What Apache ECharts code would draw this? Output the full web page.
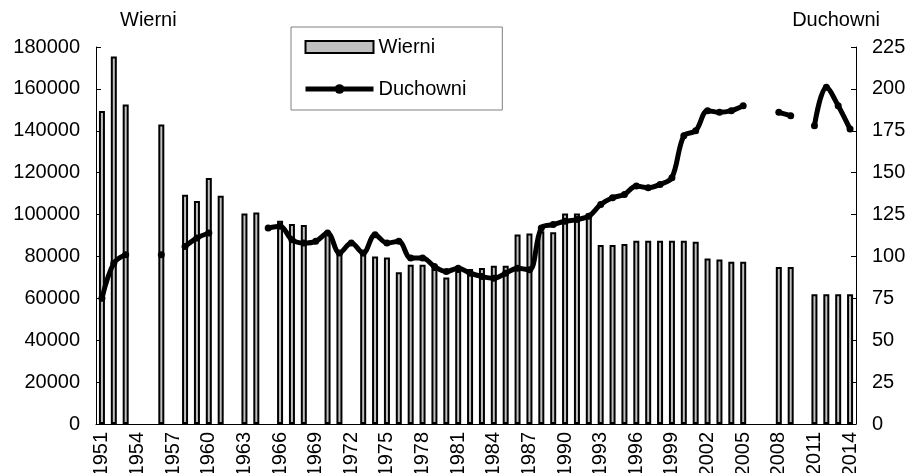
<!DOCTYPE html>
<html>
<head>
<meta charset="utf-8">
<script src="https://cdn.jsdelivr.net/npm/echarts@6.0.0/dist/echarts.min.js"></script>
<style>
  html, body { margin: 0; padding: 0; background: #fff; }
  #chart { width: 910px; height: 473px; }
</style>
</head>
<body>
<div id="chart"></div>
<script>
// lata 1951-2014
const years = []
for (let y = 1951; y <= 2014; y++) years.push(String(y))

// Wierni (lewa oś)
const wierni = [
  149500, 175500, 152500, null, null, 143000, null, 109500, 106500, 117500,
  109000, null, 100500, 101000, null, 97000, 95500, 95000, null, 91000,
  82500, null, 81000, 80000, 79500, 72500, 76000, 76000, 74000, 70000,
  73000, 74000, 74500, 75500, 75500, 90500, 91000, 92000, 91500, 100500,
  100500, 100500, 85500, 85500, 86000, 87500, 87500, 87500, 87500, 87500,
  87000, 79000, 78500, 77500, 77500, null, null, 75000, 75000, null,
  62000, 62000, 62000, 62000
]

// Duchowni (prawa oś)
const duchowni = [
  75, 96, 101, null, null, 101, null, 106, 111, 114,
  null, null, null, null, 117, 118, 110, 108, 109, 114,
  102, 108, 102, 113, 108, 109, 99, 99, 94, 91,
  93, 90, 88, 87, 90, 93, 92, 117, 119, 121,
  122, 124, 131, 135, 137, 142, 141, 143, 147, 172,
  175, 187, 186, 187, 190, null, null, 186, 184, null,
  178, 201, 190, 176
]

const leftTicks = { min: 0, max: 180000, interval: 20000 }
const rightTicks = { min: 0, max: 225, interval: 25 }

const FONT = "Liberation Sans"
const FS = 20

function initChart(dom) {
  const chart = echarts.init(dom)
  const option = {
    animation: false,
    textStyle: { fontFamily: FONT, color: "#000" },
    grid: { left: 96, right: 54, top: 47, bottom: 49, outerBoundsMode: "none", containLabel: false },
    legend: {
      orient: "vertical",
      left: 291,
      top: 27,
      padding: [10, 36, 11, 12],
      borderColor: "#808080",
      borderWidth: 1,
      itemWidth: 68,
      itemHeight: 12,
      itemGap: 22,
      textStyle: { fontFamily: FONT, fontSize: FS, lineHeight: 20, color: "#000" },
      data: [
        { name: "Wierni", icon: "rect" },
        { name: "Duchowni", lineStyle: { width: 5 } }
      ]
    },
    graphic: [
      {
        type: "text",
        left: 120,
        top: 10,
        style: { text: "Wierni", font: FS + "px " + FONT, fill: "#000" }
      },
      {
        type: "text",
        right: 30,
        top: 10,
        style: { text: "Duchowni", font: FS + "px " + FONT, fill: "#000" }
      }
    ],
    xAxis: [
      {
        type: "category",
        data: years,
        boundaryGap: true,
        axisLine: { lineStyle: { color: "#000", width: 1 } },
        axisTick: { interval: 0, length: 5, lineStyle: { color: "#000" } },
        axisLabel: {
          interval: 2,
          rotate: 90,
          margin: 8,
          fontSize: FS,
          fontFamily: FONT,
          color: "#000"
        }
      },
      {
        // krótkie kreski do środka wykresu
        type: "category",
        data: years,
        position: "bottom",
        axisLine: { show: false },
        axisTick: { interval: 0, inside: true, length: 5, lineStyle: { color: "#000" } },
        axisLabel: { show: false }
      }
    ],
    yAxis: [
      {
        type: "value",
        min: leftTicks.min,
        max: leftTicks.max,
        interval: leftTicks.interval,
        splitLine: { show: false },
        axisLine: { show: true, lineStyle: { color: "#000" } },
        axisTick: { show: true, inside: true, length: 5, lineStyle: { color: "#000" } },
        axisLabel: {
          margin: 16,
          fontSize: FS,
          fontFamily: FONT,
          color: "#000",
          formatter: function (v) { return String(v) }
        }
      },
      {
        type: "value",
        position: "right",
        min: rightTicks.min,
        max: rightTicks.max,
        interval: rightTicks.interval,
        splitLine: { show: false },
        axisLine: { show: true, lineStyle: { color: "#000" } },
        axisTick: { show: true, inside: true, length: 5, lineStyle: { color: "#000" } },
        axisLabel: { margin: 16, fontSize: FS, fontFamily: FONT, color: "#000" }
      }
    ],
    series: [
      {
        name: "Wierni",
        type: "bar",
        data: wierni,
        barWidth: 6,
        itemStyle: { color: "#c0c0c0", borderColor: "#000", borderWidth: 2 }
      },
      {
        name: "Duchowni",
        type: "line",
        yAxisIndex: 1,
        data: duchowni,
        smooth: 0.35,
        connectNulls: false,
        showSymbol: true,
        showAllSymbol: true,
        symbol: "circle",
        symbolSize: 7,
        lineStyle: { color: "#000", width: 5 },
        itemStyle: { color: "#000" }
      }
    ]
  }
  chart.setOption(option)

  window.addEventListener("resize", function () {
    chart.resize()
  })
}

initChart(document.getElementById("chart"))
</script>
</body>
</html>
